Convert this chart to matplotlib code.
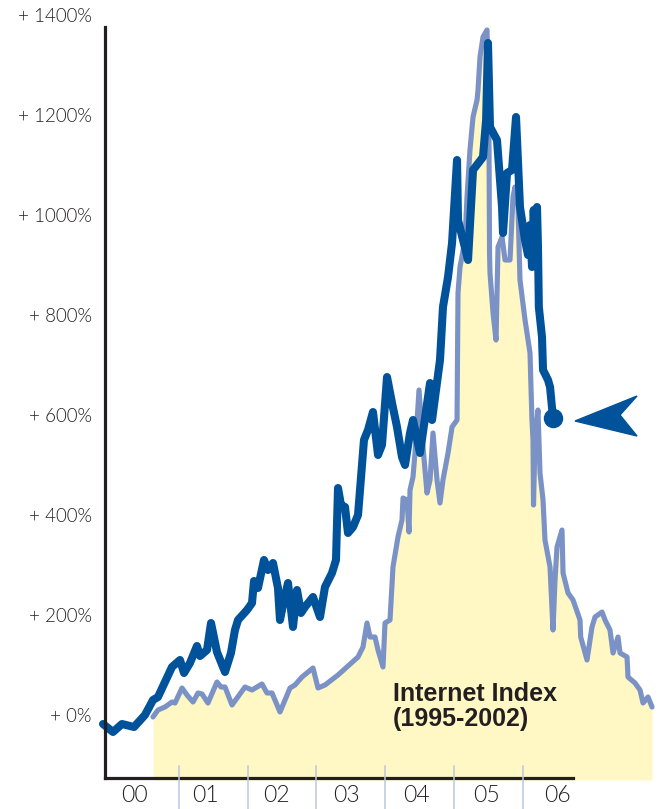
import matplotlib
matplotlib.use("Agg")
import matplotlib.pyplot as plt
import matplotlib.transforms as mtransforms
from matplotlib.patches import Polygon

# months since start of year "00", percent change
main_x = [-1.22, 0.52, 2.09, 4.19, 6.10, 7.50, 8.37, 9.59, 10.81, 12.21, 12.91, 13.95,
          15.17, 15.70, 16.92, 17.62, 18.66, 20.06, 21.10, 21.80, 22.33, 23.90, 24.77,
          25.12, 25.81, 26.86, 27.56, 28.43, 29.30, 29.65, 30.35, 31.05, 31.92, 32.62,
          33.31, 34.01, 35.41, 36.63, 37.50, 38.72, 39.42, 39.77, 40.29, 40.99, 41.51,
          42.39, 43.26, 44.30, 45.00, 45.87, 46.75, 47.44, 48.32, 49.19, 50.06, 50.93,
          51.46, 52.33, 52.85, 54.07, 55.82, 56.17, 57.56, 58.08, 58.96, 59.66, 60.53,
          60.70, 62.45, 63.32, 65.06, 65.60, 65.93, 66.28, 67.50, 68.38, 68.55, 69.25,
          70.12, 70.82, 71.51, 72.39, 72.90, 73.26, 73.61, 73.90, 74.13, 74.48, 74.65,
          74.80, 75.35, 75.53, 76.40, 76.75, 77.27]
main_y = [-16, -32, -16, -22, 2, 32, 38, 68, 98, 112, 86, 106,
          140, 120, 132, 186, 128, 88, 126, 172, 192, 212, 226,
          270, 256, 312, 292, 306, 256, 192, 232, 266, 178, 252,
          206, 218, 238, 198, 258, 286, 312, 456, 422, 418, 366,
          378, 402, 552, 572, 608, 522, 542, 678, 626, 578, 518,
          502, 566, 592, 526, 666, 592, 712, 818, 878, 946, 1112,
          992, 912, 1092, 1118, 1192, 1346, 1178, 1152, 1018, 966, 1086,
          1092, 1198, 1018, 952, 922, 982, 898, 1012, 940, 1018, 938,
          818, 758, 692, 672, 658, 596]

# Internet Index (1995-2002), shifted onto the same time axis
inet_x = [7.50, 8.37, 9.59, 10.81, 11.34, 12.56, 13.43, 14.48, 15.35, 16.05, 17.09,
          18.66, 19.36, 20.06, 21.28, 23.55, 24.77, 26.51, 27.38, 28.26, 29.65, 31.40,
          32.27, 33.49, 35.41, 36.28, 37.50, 39.77, 43.26, 44.13, 44.83, 45.35, 46.22,
          46.75, 47.62, 47.97, 48.84, 49.36, 50.23, 50.93, 51.11, 51.80, 52.15, 52.33,
          52.85, 53.20, 53.90, 54.60, 55.29, 55.82, 56.34, 57.04, 57.56, 58.08, 58.96,
          59.66, 60.53, 60.70, 61.05, 61.92, 62.27, 62.79, 63.32, 64.02, 64.19, 64.54,
          65.06, 65.76, 65.93, 66.11, 66.20, 66.28, 66.81, 67.33, 67.68, 68.38, 68.90,
          69.77, 70.29, 70.64, 71.17, 71.51, 72.39, 73.26, 73.43, 73.60, 73.78, 73.87,
          74.13, 74.65, 75.00, 75.53, 75.87, 76.75, 77.27, 77.62, 77.97, 78.84, 79.02,
          79.89, 80.76, 81.98, 82.10, 83.20, 84.07, 84.60, 85.82, 86.34, 87.21, 87.74,
          88.61, 88.96, 90.18, 90.35, 91.57, 92.45, 92.97, 93.84, 94.54]
inet_y = [-2, 12, 18, 28, 26, 56, 42, 28, 46, 44, 26,
          68, 58, 58, 22, 58, 52, 64, 46, 46, 8, 56,
          62, 78, 96, 56, 62, 82, 118, 138, 186, 158, 158,
          132, 98, 186, 192, 298, 358, 392, 436, 432, 368, 452,
          478, 526, 652, 538, 446, 472, 566, 472, 426, 472, 526,
          578, 592, 846, 898, 952, 1038, 1132, 1198, 1232, 1252, 1318,
          1358, 1372, 1286, 1138, 926, 886, 806, 752, 938, 958, 912,
          912, 1038, 1058, 1018, 872, 792, 726, 658, 592, 552, 422,
          552, 612, 486, 432, 352, 298, 172, 272, 338, 372, 286,
          246, 232, 192, 158, 112, 178, 198, 208, 192, 172, 126,
          158, 126, 118, 78, 66, 52, 26, 38, 18]

y_ticks = [0, 200, 400, 600, 800, 1000, 1200, 1400]
year_labels = ["00", "01", "02", "03", "04", "05", "06"]
year_label_x = [4.36, 16.57, 28.96, 41.2, 53.4, 65.6, 77.96]
year_bounds = [12, 24, 36, 48, 60, 72]

DARK = "#00529b"
LIGHT = "#7b92c6"
FILL = "#fff8c4"
INK = "#231f20"

fig = plt.figure(figsize=(6.62, 8.09), dpi=100)
ax = fig.add_axes([105 / 662, 31 / 809, 557 / 662, 751 / 809])
ax.set_xlim(-0.87, 96.28)
ax.set_ylim(-124, 1378)

ax.fill_between(inet_x, inet_y, -128, color=FILL, lw=0, zorder=1, clip_on=False)
ax.plot(inet_x, inet_y, color=LIGHT, lw=3.7, solid_joinstyle="round",
        solid_capstyle="round", zorder=2, clip_on=False)
ax.plot(main_x, main_y, color=DARK, lw=5.8, solid_joinstyle="round",
        solid_capstyle="round", zorder=3, clip_on=False)
ax.plot(main_x[-1], main_y[-1], "o", color=DARK, ms=13, zorder=4, clip_on=False)

# arrowhead pointing at the last value (vertices in pixels from the end point)
tr = mtransforms.Affine2D() + mtransforms.ScaledTranslation(main_x[-1], main_y[-1], ax.transData)
arrow = Polygon([(22, -3), (84, 22), (67, 3), (84, -18)], closed=True,
                transform=tr, color=DARK, zorder=4, clip_on=False)
ax.add_patch(arrow)

for s in ["top", "right"]:
    ax.spines[s].set_visible(False)
ax.spines["left"].set_linewidth(2.3)
ax.spines["left"].set_color(INK)
ax.spines["bottom"].set_linewidth(2.3)
ax.spines["bottom"].set_color(INK)
ax.spines["bottom"].set_bounds(-0.87, 80.76)
ax.spines["left"].set_zorder(5)
ax.spines["bottom"].set_zorder(5)
ax.set_xticks([])
ax.set_yticks([])

for v in y_ticks:
    ax.text(-3.14, v, "+ %d%%" % v, ha="right", va="center", fontsize=13.5,
            family="Lato", fontweight=300, color=INK)

for b in year_bounds:
    ax.plot([b, b], [-100, -190], color="#bcc6e2", lw=1.1, zorder=6, clip_on=False)

for lab, x in zip(year_labels, year_label_x):
    ax.text(x, -158, lab, ha="center", va="center", fontsize=16.5,
            family="Lato", fontweight=300, color=INK)

ax.text(49.36, 19, "Internet Index\n(1995-2002)", ha="left", va="center",
        fontsize=18, fontweight="bold", family="Liberation Sans",
        color=INK, linespacing=1.05, zorder=6)

fig.savefig("out.png", dpi=100)
